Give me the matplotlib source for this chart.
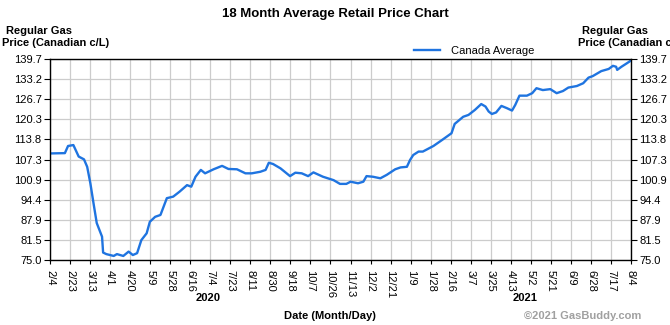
import pandas as pd
import matplotlib.pyplot as plt
import matplotlib.dates as mdates

plt.rcParams['font.family'] = ['Liberation Sans', 'DejaVu Sans']

# days after 2020-02-04 and the average price on that day
days = [0, 14, 17, 22, 27, 32, 35, 38, 41, 44, 49, 50, 53, 60, 63, 69, 74, 78,
        82, 86, 91, 94, 99, 104, 107, 110, 116, 122, 129, 133, 137, 142, 146,
        154, 162, 168, 176, 184, 190, 198, 203, 206, 210, 217, 226, 231, 237,
        243, 248, 257, 267, 273, 279, 283, 290, 295, 298, 304, 311, 317, 325,
        330, 336, 339, 342, 347, 351, 361, 369, 378, 381, 389, 394, 400, 406,
        410, 413, 416, 420, 425, 430, 435, 438, 442, 449, 454, 458, 464, 471,
        477, 483, 488, 496, 502, 507, 511, 519, 526, 530, 533, 534, 538, 543,
        547]
price = [109.3, 109.4, 111.7, 112.0, 108.3, 107.4, 105.0, 99.7, 93.2, 86.9,
         82.5, 77.4, 76.9, 76.3, 76.9, 76.3, 77.7, 76.6, 77.2, 81.4, 83.6,
         87.3, 88.9, 89.5, 92.2, 94.9, 95.4, 97.0, 99.1, 98.6, 101.8, 104.0,
         102.9, 104.2, 105.3, 104.3, 104.2, 102.9, 102.9, 103.4, 104.0, 106.3,
         105.9, 104.5, 102.0, 103.1, 102.9, 102.0, 103.2, 101.8, 100.7, 99.5,
         99.5, 100.2, 99.7, 100.2, 102.0, 101.8, 101.3, 102.4, 104.2, 104.8,
         105.0, 107.2, 108.8, 109.9, 109.9, 111.7, 113.6, 115.8, 118.8, 121.1,
         121.7, 123.3, 125.2, 124.4, 122.8, 122.0, 122.5, 124.6, 123.9, 123.1,
         124.9, 127.9, 127.9, 128.7, 130.3, 129.7, 130.0, 128.7, 129.4, 130.5,
         131.0, 131.9, 133.7, 134.2, 135.8, 136.5, 137.5, 137.2, 136.2, 137.2,
         138.3, 139.2]

tick_labels = ['2/4', '2/23', '3/13', '4/1', '4/20', '5/9', '5/28', '6/16',
               '7/4', '7/23', '8/11', '8/30', '9/18', '10/7', '10/26', '11/13',
               '12/2', '12/21', '1/9', '1/28', '2/16', '3/7', '3/25', '4/13',
               '5/2', '5/21', '6/9', '6/28', '7/17', '8/4']
y_ticks = [75.0, 81.5, 87.9, 94.4, 100.9, 107.3, 113.8, 120.3, 126.7, 133.2, 139.7]

start = pd.Timestamp('2020-02-04')
end = pd.Timestamp('2021-08-04')
dates = start + pd.to_timedelta(days, unit='D')

fig = plt.figure(figsize=(6.7, 3.25), dpi=100)
ax = fig.add_axes([50/670, 65/325, 581/670, 201/325])

ax.plot(dates, price, color='#1f74e0', lw=1.7, label='Canada Average')

ax.set_xlim(start, end)
ax.set_ylim(75.0, 139.7)
tick_pos = pd.date_range(start, end, periods=len(tick_labels))
ax.set_xticks(mdates.date2num(tick_pos))
ax.set_xticklabels(tick_labels, rotation=270, fontsize=8)
ax.set_yticks(y_ticks)
ax.set_yticklabels([f'{v:.1f}' for v in y_ticks], fontsize=8)
ax.tick_params(axis='y', right=True, labelright=True, length=4, width=0.8, pad=2)
ax.tick_params(axis='x', length=3, width=0.8, pad=4)
ax.grid(True, color='#cccccc', lw=0.9)
ax.set_axisbelow(True)
for s in ax.spines.values():
    s.set_linewidth(1.0)

fig.text(0.5, 1 - 14/325, '18 Month Average Retail Price Chart',
         ha='center', va='center', fontsize=9.5, fontweight='bold')
for x0 in (2, 578):
    fig.text((x0 + 4)/670, 1 - 31/325, 'Regular Gas', ha='left', va='center',
             fontsize=8, fontweight='bold')
    fig.text(x0/670, 1 - 43/325, 'Price (Canadian c/L)', ha='left', va='center',
             fontsize=8, fontweight='bold')

ax.legend(loc='center left', bbox_to_anchor=(408/670, 1 - 51/325),
          bbox_transform=fig.transFigure, frameon=False, fontsize=8,
          handlelength=2.4, borderpad=0, handletextpad=1.0)

fig.text(208/670, 1 - 298/325, '2020', ha='center', va='center',
         fontsize=8, fontweight='bold')
fig.text(525/670, 1 - 298/325, '2021', ha='center', va='center',
         fontsize=8, fontweight='bold')
fig.text(330/670, 1 - 316/325, 'Date (Month/Day)', ha='center', va='center',
         fontsize=8, fontweight='bold')
fig.text(641/670, 1 - 316/325, '\u00a92021 GasBuddy.com', ha='right',
         va='center', fontsize=8, fontweight='bold', color='#a0a0a0')

fig.savefig('out.png', dpi=100)
